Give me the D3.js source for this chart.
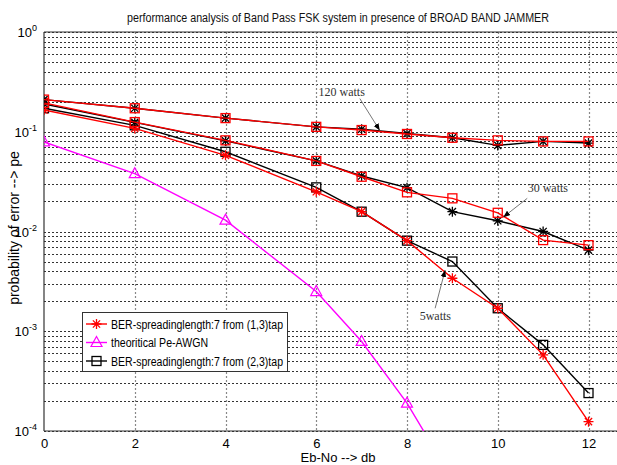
<!DOCTYPE html>
<html>
<head>
<meta charset="utf-8">
<script src="https://cdn.jsdelivr.net/npm/d3@7"></script>
<style>
  html, body { margin: 0; padding: 0; background: #fff; }
  svg { display: block; }
</style>
</head>
<body>
<svg id="chart" width="617" height="465" font-family="Liberation Sans, Arial, sans-serif"></svg>
<script>
// Eb/No points (dB) shared by the jammer curves
const ebno = [0, 2, 4, 6, 7, 8, 9, 10, 11, 12];

// 120 watt jammer
const ber120Red   = [0.21, 0.172, 0.137, 0.112, 0.104, 0.095, 0.087, 0.082, 0.080, 0.080];
const ber120Black = [0.21, 0.172, 0.137, 0.112, 0.106, 0.096, 0.087, 0.073, 0.080, 0.077];
// 30 watt jammer
const ber30Red   = [0.195, 0.125, 0.082, 0.051, 0.0354, 0.0247, 0.0215, 0.0154, 0.0082, 0.0073];
const ber30Black = [0.19, 0.124, 0.081, 0.051, 0.036, 0.0275, 0.0158, 0.0128, 0.0100, 0.0065];
// 5 watt jammer
const ber5Red   = [0.165, 0.108, 0.058, 0.025, 0.0158, 0.0081, 0.0034, 0.0017, 0.00058, 0.000124];
const ber5Black = [0.172, 0.116, 0.063, 0.0277, 0.0158, 0.0081, 0.0050, 0.0017, 0.00073, 0.00024];

// theoretical AWGN curve
const awgnX = [0, 2, 4, 6, 7, 8, 9];
const awgnPe = [0.079, 0.038, 0.013, 0.0025, 0.00079, 0.00019, 0.000033];

const xTicks = [0, 2, 4, 6, 8, 10, 12];
const yDecades = [-4, -3, -2, -1, 0];

const legendLabels = [
  "BER-spreadinglength:7 from (1,3)tap",
  "theoritical Pe-AWGN",
  "BER-spreadinglength:7 from (2,3)tap"
];

const annotations = [
  { text: "120 watts", lx: 6.05, ly: 0.226, sx: 6.96, sy: 0.215, tx: 7.4, ty: 0.103 },
  { text: "30 watts",  lx: 10.66, ly: 0.025, sx: 10.65, sy: 0.0215, tx: 10.12, ty: 0.0139 },
  { text: "5watts",    lx: 8.28, ly: 0.0013, sx: 8.62, sy: 0.0017, tx: 8.84, ty: 0.0041 }
];

const svg = d3.select("#chart");
const plotL = 44, plotR = 618, plotT = 32, plotB = 431;

const x = d3.scaleLinear().domain([0, 12.65]).range([plotL, plotR]);
const y = d3.scaleLog().domain([1e-4, 1]).range([plotB, plotT]);

const defs = svg.append("defs");
defs.append("clipPath").attr("id", "plotclip")
  .append("rect").attr("x", plotL).attr("y", plotT)
  .attr("width", plotR - plotL).attr("height", plotB - plotT);

// grid lines: every decade and its minor steps
const grid = svg.append("g");
const yGridVals = [];
yDecades.forEach(d => {
  if (d < 0) for (let m = 1; m <= 9; m++) yGridVals.push(m * Math.pow(10, d));
  else yGridVals.push(1);
});
grid.selectAll("line.h").data(yGridVals).join("line")
  .attr("x1", plotL).attr("x2", plotR)
  .attr("y1", d => Math.round(y(d)) + 0.5).attr("y2", d => Math.round(y(d)) + 0.5)
  .attr("stroke", "#333").attr("stroke-width", 1).attr("stroke-dasharray", "2,2");
grid.selectAll("line.v").data(xTicks.slice(1)).join("line")
  .attr("x1", d => Math.round(x(d)) + 0.5).attr("x2", d => Math.round(x(d)) + 0.5)
  .attr("y1", plotT).attr("y2", plotB)
  .attr("stroke", "#888").attr("stroke-width", 1.2).attr("stroke-dasharray", "2,2");

// axes box
const axes = svg.append("g").attr("stroke", "#333").attr("stroke-width", 1.2);
axes.append("line").attr("x1", plotL).attr("x2", plotL).attr("y1", plotT).attr("y2", plotB);
axes.append("line").attr("x1", plotL).attr("x2", plotR).attr("y1", plotB).attr("y2", plotB);
axes.append("line").attr("x1", plotL).attr("x2", plotR).attr("y1", plotT).attr("y2", plotT);

// x axis tick labels
const xAxis = d3.axisBottom(x).tickValues(xTicks).tickFormat(d3.format("d")).tickSize(0).tickPadding(8);
const gx = svg.append("g").attr("transform", `translate(0,${plotB})`).call(xAxis);
gx.select(".domain").remove();
gx.selectAll("text").attr("font-size", 13).attr("fill", "#000")
  .attr("font-family", "Liberation Sans, Arial, sans-serif");

// y axis tick labels as 10^k
const ylab = svg.append("g");
yDecades.forEach(d => {
  const t = ylab.append("text").attr("x", 37).attr("y", y(Math.pow(10, d)) + 5)
    .attr("text-anchor", "end").attr("font-size", 13).attr("fill", "#000");
  t.append("tspan").text("10");
  t.append("tspan").attr("dy", -6).attr("font-size", 9).text(String(d));
});

// series
const line = d3.line().x(d => x(d[0])).y(d => y(d[1]));
const plot = svg.append("g").attr("clip-path", "url(#plotclip)");

function starPath(r) {
  const k = r * 0.72;
  return `M${-r},0L${r},0M0,${-r}L0,${r}M${-k},${-k}L${k},${k}M${-k},${k}L${k},${-k}`;
}
function drawMarker(g, kind, cx, cy, color) {
  if (kind === "square") {
    g.append("rect").attr("x", cx - 4.5).attr("y", cy - 4.5).attr("width", 9).attr("height", 9)
      .attr("fill", "none").attr("stroke", color).attr("stroke-width", 1.3);
  } else if (kind === "star") {
    g.append("path").attr("d", starPath(5)).attr("transform", `translate(${cx},${cy})`)
      .attr("fill", "none").attr("stroke", color).attr("stroke-width", 1.3);
  } else if (kind === "tri") {
    g.append("path").attr("d", "M0,-6L5.5,4L-5.5,4Z").attr("transform", `translate(${cx},${cy})`)
      .attr("fill", "none").attr("stroke", color).attr("stroke-width", 1.2);
  }
}
function drawSeries(xs, ys, color, kind) {
  const pts = xs.map((v, i) => [v, ys[i]]);
  plot.append("path").datum(pts).attr("d", line)
    .attr("fill", "none").attr("stroke", color).attr("stroke-width", 1.4);
  const mg = plot.append("g");
  pts.forEach(p => drawMarker(mg, kind, x(p[0]), y(p[1]), color));
}

drawSeries(awgnX, awgnPe, "#ff00ff", "tri");
drawSeries(ebno, ber5Black, "#000", "square");
drawSeries(ebno, ber5Red, "#ff0000", "star");
drawSeries(ebno, ber30Black, "#000", "star");
drawSeries(ebno, ber30Red, "#ff0000", "square");
drawSeries(ebno, ber120Black, "#000", "star");
drawSeries(ebno, ber120Red, "#ff0000", "square");

// annotations with arrows
defs.append("marker").attr("id", "arrowhead")
  .attr("viewBox", "0 0 10 10").attr("refX", 10).attr("refY", 5)
  .attr("markerWidth", 7).attr("markerHeight", 7).attr("orient", "auto")
  .append("path").attr("d", "M0,1L10,5L0,9Z").attr("fill", "#000");
const ann = svg.append("g");
annotations.forEach(a => {
  ann.append("line").attr("x1", x(a.sx)).attr("y1", y(a.sy)).attr("x2", x(a.tx)).attr("y2", y(a.ty))
    .attr("stroke", "#777").attr("stroke-width", 1).attr("marker-end", "url(#arrowhead)");
  ann.append("text").attr("x", x(a.lx)).attr("y", y(a.ly))
    .attr("font-family", "Liberation Serif, Times New Roman, serif")
    .attr("font-size", 12).attr("fill", "#333").text(a.text);
});

// legend
const lg = svg.append("g");
lg.append("rect").attr("x", 82.5).attr("y", 312.5).attr("width", 205).attr("height", 59)
  .attr("fill", "#fff").attr("stroke", "#333").attr("stroke-width", 1);
const legendStyle = [
  { color: "#ff0000", kind: "star", w: 172 },
  { color: "#ff00ff", kind: "tri", w: 97 },
  { color: "#000", kind: "square", w: 172 }
];
legendLabels.forEach((lab, i) => {
  const cy = 324 + i * 18.5;
  lg.append("line").attr("x1", 86).attr("x2", 107).attr("y1", cy).attr("y2", cy)
    .attr("stroke", legendStyle[i].color).attr("stroke-width", 1.4);
  drawMarker(lg, legendStyle[i].kind, 96.5, cy, legendStyle[i].color);
  lg.append("text").attr("x", 111).attr("y", cy + 4.5).attr("font-size", 12)
    .attr("textLength", legendStyle[i].w).attr("lengthAdjust", "spacingAndGlyphs")
    .attr("fill", "#000").text(lab);
});

// titles
svg.append("text").attr("x", 338).attr("y", 22).attr("text-anchor", "middle")
  .attr("font-size", 12).attr("fill", "#111")
  .attr("textLength", 422).attr("lengthAdjust", "spacingAndGlyphs")
  .text("performance analysis of Band Pass FSK system in presence of BROAD BAND JAMMER");
svg.append("text").attr("x", 338).attr("y", 462).attr("text-anchor", "middle")
  .attr("font-size", 13).attr("fill", "#000").text("Eb-No --> db");
svg.append("text").attr("transform", "translate(19,228) rotate(-90)").attr("text-anchor", "middle")
  .attr("font-size", 14).attr("fill", "#000").text("probability of error --> pe");
</script>
</body>
</html>
